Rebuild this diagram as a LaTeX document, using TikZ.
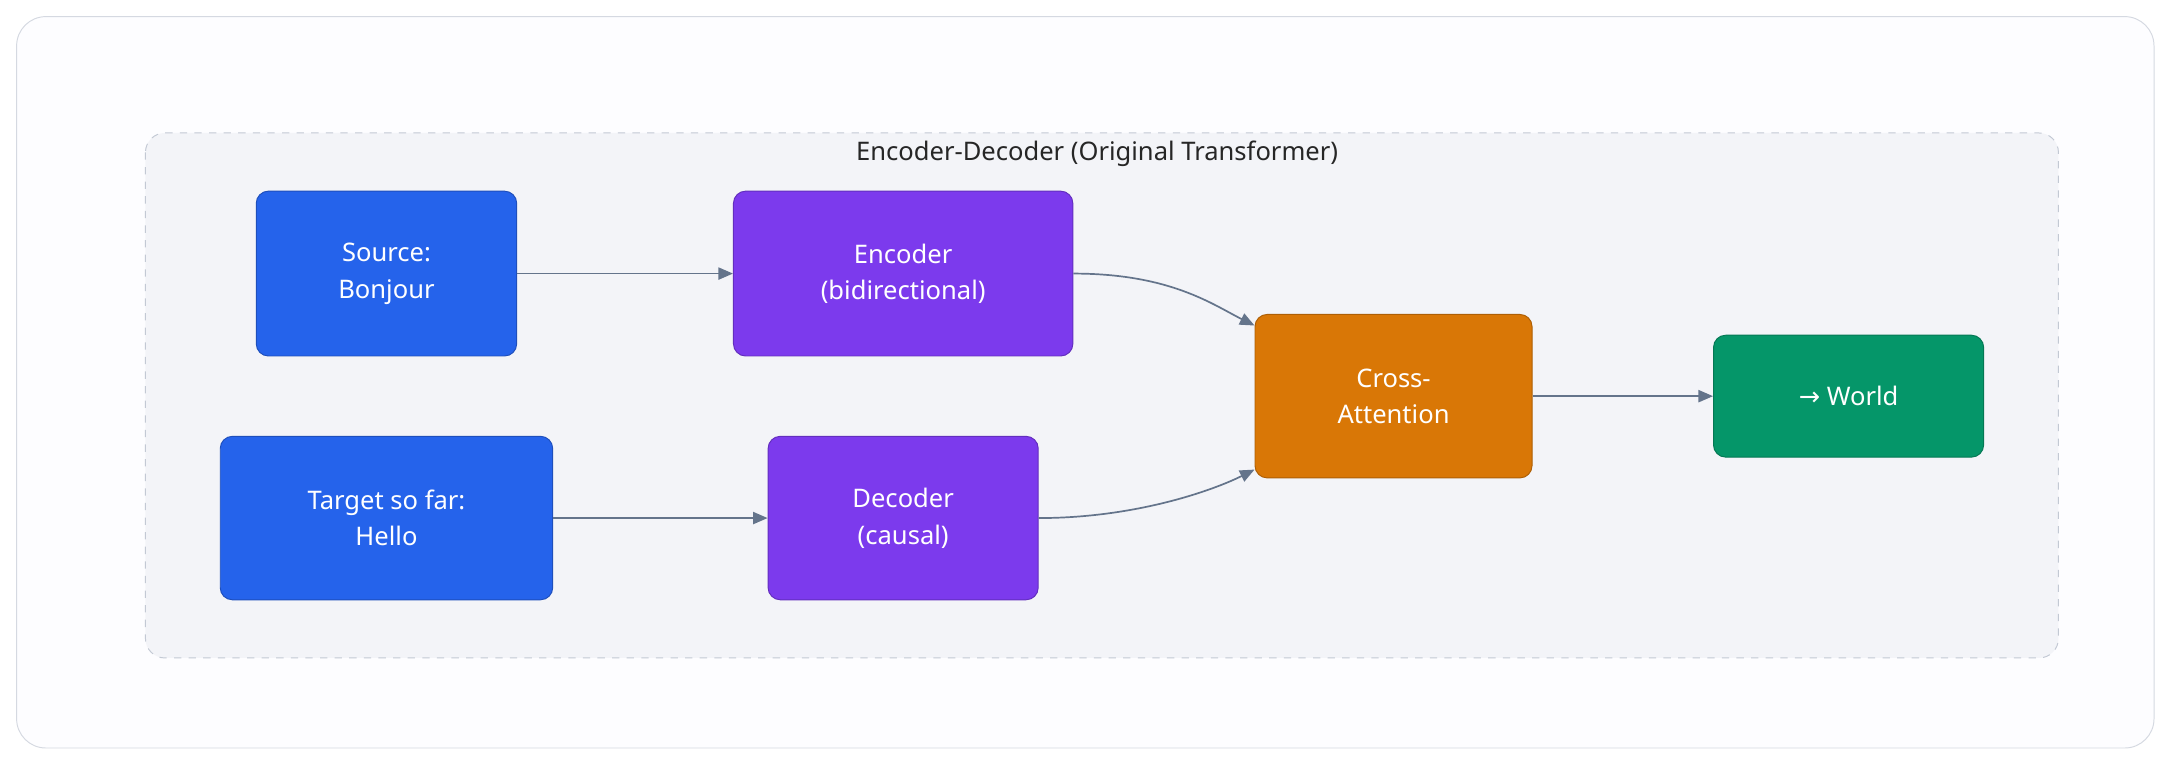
\documentclass[tikz,border=0pt]{standalone}
\usepackage{fontspec}
\setmainfont{Noto Sans}
\newfontfamily\symfont{DejaVu Sans}
\usetikzlibrary{arrows.meta}
\definecolor{srcblue}{HTML}{2563EB}
\definecolor{encviolet}{HTML}{7C3AED}
\definecolor{crossorange}{HTML}{D97706}
\definecolor{outgreen}{HTML}{059669}
\definecolor{linkgray}{HTML}{64748B}
\definecolor{groupfill}{HTML}{F3F4F8}
\definecolor{groupline}{HTML}{C3C9D4}
\tikzset{
    block/.style={draw=#1!80!black, fill=#1, rounded corners=5pt, text=white,
        align=center, font=\fontsize{10.5}{15}\selectfont, inner sep=0pt},
    link/.style={draw=linkgray, line width=0.7pt, -{Triangle[length=6pt,width=5pt]}}
}
\begin{document}
\begin{tikzpicture}[x=0.02cm, y=-0.02cm]
        \useasboundingbox (0,0) rectangle (1568,553);
        \draw[rounded corners=12pt, fill=white!97!blue!30, draw=groupline!70] (12,12) rectangle (1555,540);
        \draw[rounded corners=8pt, fill=groupfill, draw=groupline, dashed] (105,96) rectangle (1486,475);
        \node[font=\fontsize{10.5}{13}\selectfont\bfseries, text=black!85] (title) at (792,111) {Encoder-Decoder (Original Transformer)};
        % nodes
        \node[block=srcblue, minimum width=188*0.02cm, minimum height=119*0.02cm] (source) at (279,197.5) {Source:\\Bonjour};
        \node[block=encviolet, minimum width=245*0.02cm, minimum height=119*0.02cm] (encoder) at (652,197.5) {Encoder\\(bidirectional)};
        \node[block=srcblue, minimum width=240*0.02cm, minimum height=118*0.02cm] (target) at (279,374) {Target so far:\\Hello};
        \node[block=encviolet, minimum width=195*0.02cm, minimum height=118*0.02cm] (decoder) at (652,374) {Decoder\\(causal)};
        \node[block=crossorange, minimum width=200*0.02cm, minimum height=118*0.02cm] (cross) at (1006,286) {Cross-\\Attention};
        \node[block=outgreen, minimum width=195*0.02cm, minimum height=88*0.02cm] (world) at (1334.5,286) {{\symfont →} World};
        % links
        \draw[link] (source) -- (encoder);
        \draw[link] (target) -- (decoder);
        \draw[link] (encoder.east) .. controls +(70,0) and +(-30,-15) .. (cross.north west |- 0,235) coordinate (crossin1);
        \draw[link] (decoder.east) .. controls +(70,0) and +(-30,15) .. (cross.south west |- 0,339) coordinate (crossin2);
        \draw[link] (cross) -- (world);
    \end{tikzpicture}
\end{document}
